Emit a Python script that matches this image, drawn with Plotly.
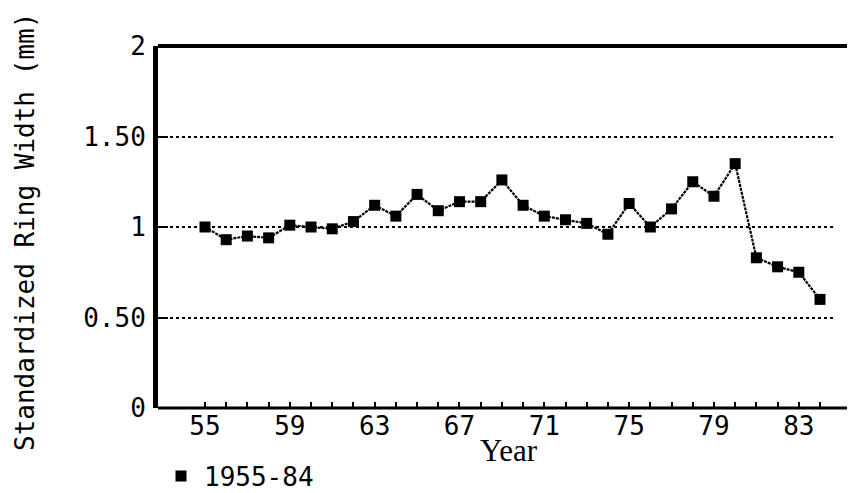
import plotly.graph_objects as go

years = list(range(1955, 1985))
ring_width = [1.00, 0.93, 0.95, 0.94, 1.01, 1.00, 0.99, 1.03, 1.12, 1.06,
              1.18, 1.09, 1.14, 1.14, 1.26, 1.12, 1.06, 1.04, 1.02, 0.96,
              1.13, 1.00, 1.10, 1.25, 1.17, 1.35, 0.83, 0.78, 0.75, 0.60]
series_name = "1955-84"
x_tick_labels = [str(y)[2:] if (y - 1955) % 4 == 0 else "" for y in years]
y_tick_vals = [0, 0.5, 1, 1.5, 2]
y_tick_text = ["0", "0.50", "1", "1.50", "2"]

# page has an 8px body margin; work in window pixels and shift
OX, OY = 8, 8
WIN_W, WIN_H = 855, 493
W, H = WIN_W - OX, WIN_H - OY
L, R, T, B = 158 - OX, 834 - OX, 46 - OY, 408 - OY
pw, ph = R - L, B - T

mono = "DejaVu Sans Mono"

fig = go.Figure()
fig.add_trace(go.Scatter(
    x=years, y=ring_width, name=series_name, mode="lines", showlegend=False,
    line=dict(color="black", width=2.2, dash="3px,1px"),
))
fig.add_trace(go.Scatter(
    x=years, y=ring_width, name=series_name, mode="markers", showlegend=True,
    marker=dict(symbol="square", size=11, color="black"),
))

fig.update_layout(
    width=W, height=H,
    margin=dict(l=L, r=W - R, t=T, b=H - B, autoexpand=False),
    paper_bgcolor="white", plot_bgcolor="white",
    showlegend=True,
    legend=dict(orientation="h", xref="container", yref="container",
                x=(158 - OX) / W, xanchor="left",
                y=1 - (476 - OY) / H, yanchor="middle",
                font=dict(family=mono, size=26, color="black"),
                bgcolor="rgba(0,0,0,0)", itemwidth=36),
    xaxis=dict(
        range=[1952.784, 1984.66], tickvals=years, ticktext=x_tick_labels,
        ticks="inside", ticklen=6, tickwidth=2, tickcolor="black",
        showgrid=False, zeroline=False, showline=False, automargin=False,
        tickfont=dict(family=mono, size=26, color="black"),
        ticklabelstandoff=0,
    ),
    yaxis=dict(
        range=[0, 2], tickvals=y_tick_vals, ticktext=y_tick_text,
        ticks="inside", ticklen=10, tickwidth=2, tickcolor="black",
        showline=True, linewidth=5, linecolor="black", automargin=False,
        showgrid=True, gridcolor="black", gridwidth=1.5, griddash="dot",
        zeroline=False,
        tickfont=dict(family=mono, size=26, color="black"),
        ticklabelstandoff=2,
    ),
    shapes=[
        dict(type="line", xref="paper", yref="paper", x0=0, x1=(W - L) / pw,
             y0=1, y1=1, line=dict(color="black", width=4)),
        dict(type="line", xref="paper", yref="paper", x0=0, x1=(W - L) / pw,
             y0=0, y1=0, line=dict(color="black", width=3)),
    ],
    annotations=[
        dict(text="Standardized Ring Width (mm)", textangle=-90,
             xref="paper", yref="paper", x=(25 - OX - L) / pw,
             y=(B - (232 - OY)) / ph,
             xanchor="center", yanchor="middle", showarrow=False,
             font=dict(family=mono, size=26, color="black")),
        dict(text="Year", xref="paper", yref="paper",
             x=(509 - OX - L) / pw, y=(B - (450 - OY)) / ph,
             xanchor="center", yanchor="middle", showarrow=False,
             font=dict(family="Liberation Serif", size=31, color="black")),
    ],
)

fig.write_html("out.html")
